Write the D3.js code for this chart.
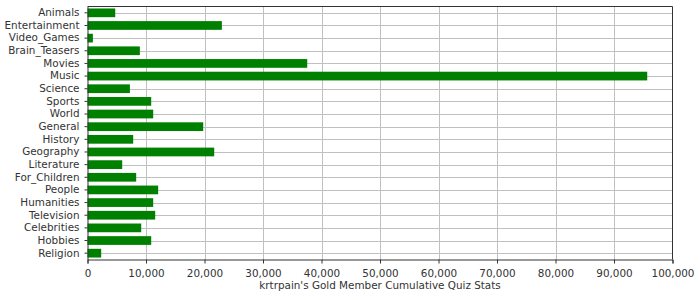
<!DOCTYPE html>
<meta charset="utf-8">
<style>
body { margin: 0; background: #fff; }
text { font-family: "DejaVu Sans", sans-serif; font-size: 10.4px; fill: #333; }
.grid line { stroke: #c0c0c0; stroke-width: 1; }
.axis path, .axis line { stroke: #333; }
</style>
<svg width="700" height="300"></svg>
<script src="https://d3js.org/d3.v7.min.js"></script>
<script>
let categories = ["Animals", "Entertainment", "Video_Games", "Brain_Teasers", "Movies", "Music",
  "Science", "Sports", "World", "General", "History", "Geography", "Literature", "For_Children",
  "People", "Humanities", "Television", "Celebrities", "Hobbies", "Religion"];
let values = [4740, 22970, 920, 8950, 37560, 95680, 7250, 10890, 11230, 19780, 7810, 21660,
  5930, 8320, 12080, 11230, 11570, 9180, 10890, 2340];
let xTicks = [0, 10000, 20000, 30000, 40000, 50000, 60000, 70000, 80000, 90000, 100000];
let axisTitle = "krtrpain's Gold Member Cumulative Quiz Stats";

let svg = d3.select("svg"),
  mLeft = 87.5, mRight = 672.5, mTop = 6.5, mBottom = 259.5;

let x = d3.scaleLinear().domain([0, 100000]).range([mLeft, mRight]);
let y = d3.scaleBand().domain(categories).range([mTop, mBottom]).paddingInner(0.31).paddingOuter(0.155);

// gridlines
let grid = svg.append("g").attr("class", "grid");
grid.selectAll(".vx").data(xTicks.slice(1, -1)).enter().append("line")
  .attr("x1", d => Math.round(x(d)) + 0.5).attr("x2", d => Math.round(x(d)) + 0.5)
  .attr("y1", mTop).attr("y2", mBottom);
grid.selectAll(".hy").data(categories).enter().append("line")
  .attr("x1", mLeft).attr("x2", mRight)
  .attr("y1", d => Math.round(y(d) + y.bandwidth() / 2) + 0.5)
  .attr("y2", d => Math.round(y(d) + y.bandwidth() / 2) + 0.5);

// bars
svg.append("g").selectAll("rect").data(values).enter().append("rect")
  .attr("x", mLeft)
  .attr("y", (d, i) => y(categories[i]))
  .attr("width", d => x(d) - mLeft)
  .attr("height", y.bandwidth())
  .attr("fill", "#008000");

// frame top/right
svg.append("path")
  .attr("d", `M${mLeft},${mTop}H${mRight}V${mBottom}`)
  .attr("fill", "none").attr("stroke", "#333");

let xAxis = svg.append("g").attr("class", "axis")
  .attr("transform", `translate(0,${mBottom})`)
  .call(d3.axisBottom(x).tickValues(xTicks).tickSize(4).tickSizeOuter(4).tickFormat(d3.format(",")));
xAxis.selectAll("text").attr("dy", "0.71em").attr("y", 10);

let yAxis = svg.append("g").attr("class", "axis")
  .attr("transform", `translate(${mLeft},0)`)
  .call(d3.axisLeft(y).tickSize(3).tickSizeOuter(0).tickPadding(5));

svg.append("text")
  .attr("x", (mLeft + mRight) / 2).attr("y", 289)
  .attr("text-anchor", "middle")
  .text(axisTitle);
</script>
